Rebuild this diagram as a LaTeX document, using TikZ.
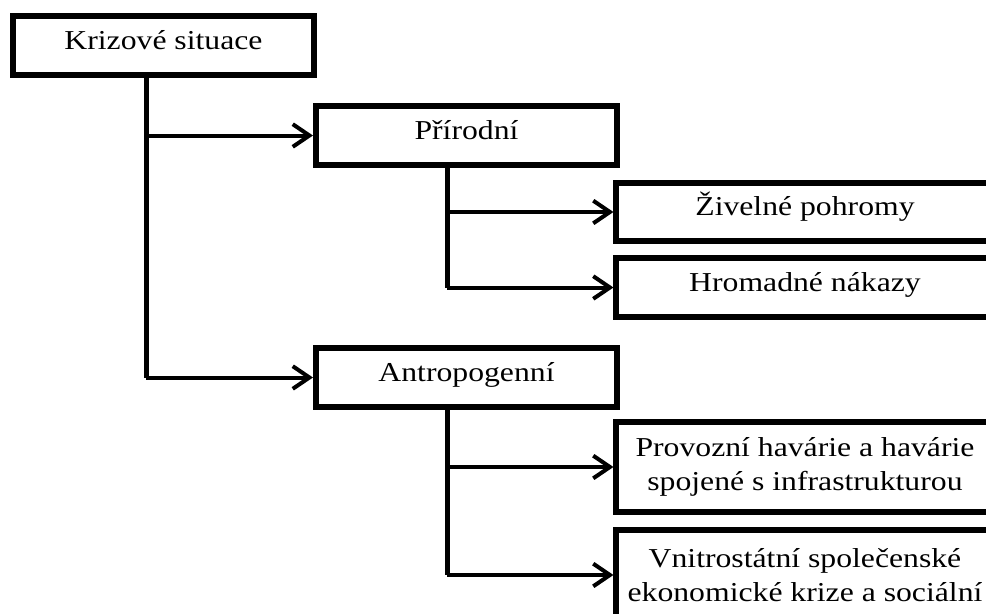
\documentclass[tikz,border=0pt]{standalone}
\usepackage{fontspec}
\setmainfont{Liberation Serif}
\usetikzlibrary{arrows.meta}

\tikzset{every picture/.style={line width=0.75pt}}
\tikzset{
  box/.style={draw, line width=4.3pt, inner sep=0pt, align=center,
    font=\fontsize{20.5}{25.5}\selectfont\addfontfeature{FakeStretch=1.16}},
  lbox/.style={box, minimum width=226pt, minimum height=44.5pt,
    text height=14pt, text depth=8.75pt},
  rbox/.style={box, minimum width=283pt, minimum height=44pt,
    text height=14pt, text depth=8.75pt},
  rbox2/.style={box, minimum width=283pt, minimum height=67.7pt},
  trunk/.style={line width=3.75pt},
  branch/.style={line width=3pt, -{Straight Barb[length=12.5pt, width=17pt]}}
}

\begin{document}
\begin{tikzpicture}[x=0.75pt,y=0.75pt,yscale=-1,xscale=1]
\useasboundingbox (0,0) rectangle (986,614);

%Shape: Rectangle
\node[lbox] (kriz) at (163.5,45.5) {Krizové situace};
\node[lbox] (prir) at (466.5,135.5) {Přírodní};
\node[lbox] (antr) at (466.5,377.5) {Antropogenní};
%Shape: Rectangle
\node[rbox] (ziv) at (805,212) {Živelné pohromy};
\node[rbox] (hrom) at (805,287.5) {Hromadné nákazy};
\node[rbox2] (prov) at (805,467) {Provozní havárie a havárie\\spojené s infrastrukturou};
\node[rbox2] (vnit) at (805,575) {Vnitrostátní společenské\\ekonomické krize a sociální};

%Straight Lines
\coordinate (k1) at (146,135.5);
\coordinate (k2) at (146,377.5);
\coordinate (p1) at (447,212);
\coordinate (p2) at (447,287.5);
\coordinate (a1) at (447,467);
\coordinate (a2) at (447,575);
\draw[trunk] (kriz.south -| k2) -- (k2);
\draw[trunk] (prir.south -| p2) -- (p2);
\draw[trunk] (antr.south -| a2) -- (a2);
%Arrows
\draw[branch] (k1) -- (prir.west);
\draw[branch] (k2) -- (antr.west);
\draw[branch] (p1) -- (ziv.west);
\draw[branch] (p2) -- (hrom.west);
\draw[branch] (a1) -- (prov.west);
\draw[branch] (a2) -- (vnit.west);

\end{tikzpicture}
\end{document}
